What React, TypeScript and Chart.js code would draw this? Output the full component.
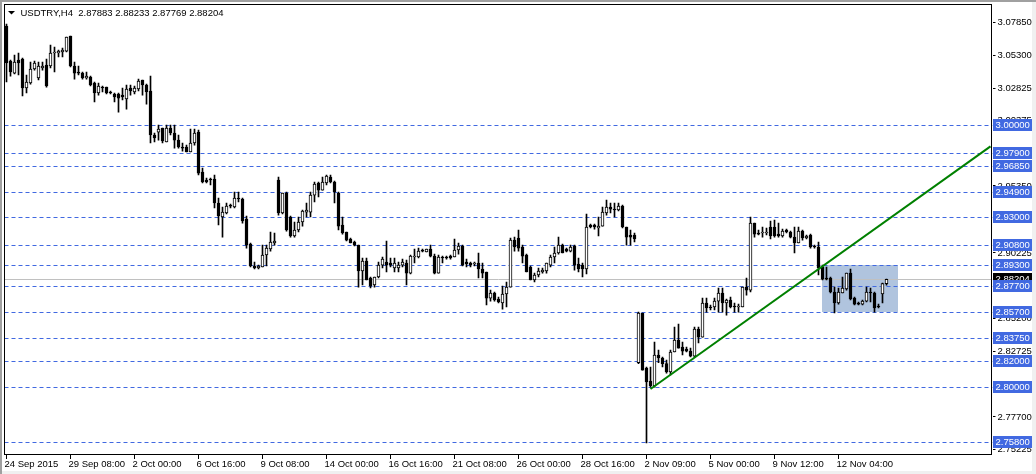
import React, { useEffect, useRef } from 'react';
import { Chart, registerables } from 'chart.js';

Chart.register(...registerables);

const SYMBOL = 'USDTRY,H4';
const timeLabels = ['24 Sep 2015', '29 Sep 08:00', '2 Oct 00:00', '6 Oct 16:00', '9 Oct 08:00', '14 Oct 00:00', '16 Oct 16:00', '21 Oct 08:00', '26 Oct 00:00', '28 Oct 16:00', '2 Nov 09:00', '5 Nov 00:00', '9 Nov 12:00', '12 Nov 04:00'];
const LABEL_EVERY = 16;
const TOTAL_SLOTS = 247;

const open = [
  3.0756, 3.0489, 3.0397, 3.0497, 3.0504, 3.0283, 3.0321, 3.0428, 3.0359, 3.0436,
  3.0458, 3.0451, 3.0550, 3.0550, 3.0558, 3.0565, 3.0680, 3.0451, 3.0405, 3.0397,
  3.0359, 3.0367, 3.0321, 3.0245, 3.0290, 3.0290, 3.0252, 3.0237, 3.0237, 3.0229,
  3.0199, 3.0283, 3.0252, 3.0275, 3.0344, 3.0306, 3.0260, 2.9924, 2.9946, 2.9977,
  2.9870, 2.9977, 2.9939, 2.9885, 2.9832, 2.9832, 2.9794, 2.9863, 2.9946, 2.9641,
  2.9580, 2.9587, 2.9587, 2.9404, 2.9297, 2.9328, 2.9389, 2.9374, 2.9442, 2.9435,
  2.9282, 2.9091, 2.8923, 2.8908, 2.8915, 2.9007, 2.9053, 2.9099, 2.9580, 2.9328,
  2.9481, 2.9297, 2.9152, 2.9198, 2.9259, 2.9335, 2.9335, 2.9465, 2.9557, 2.9503,
  2.9557, 2.9603, 2.9565, 2.9481, 2.9236, 2.9183, 2.9129, 2.9106, 2.9083, 2.8885,
  2.8961, 2.8831, 2.8778, 2.8839, 2.8930, 2.8953, 2.8946, 2.8908, 2.8908, 2.8930,
  2.8946, 2.8869, 2.8992, 2.8992, 2.9045, 2.9030, 2.9053, 2.8999, 2.8869, 2.8992,
  2.8992, 2.8999, 2.8992, 2.9045, 2.9076, 2.8953, 2.8946, 2.8938, 2.8946, 2.8900,
  2.8877, 2.8678, 2.8717, 2.8671, 2.8640, 2.8709, 2.8762, 2.9121, 2.9137, 2.9068,
  2.9007, 2.8915, 2.8816, 2.8854, 2.8877, 2.8885, 2.8930, 2.8992, 2.9022, 2.9083,
  2.9053, 2.9037, 2.9076, 2.8938, 2.8930, 2.8900, 2.9236, 2.9236, 2.9213, 2.9228,
  2.9328, 2.9374, 2.9358, 2.9351, 2.9381, 2.9221, 2.9160, 2.9160, 2.8184, 2.8564,
  2.8144, 2.8044, 2.8006, 2.8243, 2.8220, 2.8177, 2.8113, 2.8266, 2.8357, 2.8304,
  2.8289, 2.8273, 2.8235, 2.8441, 2.8380, 2.8640, 2.8610, 2.8610, 2.8655, 2.8717,
  2.8640, 2.8663, 2.8617, 2.8610, 2.8610, 2.8762, 2.8739, 2.9251, 2.9175, 2.9175,
  2.9175, 2.9221, 2.9221, 2.9167, 2.9152, 2.9198, 2.9183, 2.9144, 2.9099, 2.9190,
  2.9137, 2.9160, 2.9076, 2.9068, 2.8915, 2.8831, 2.8831, 2.8724, 2.8640, 2.8717,
  2.8747, 2.8869, 2.8678, 2.8640, 2.8632, 2.8655, 2.8724, 2.8717, 2.8617, 2.8709,
  2.87883,
];
const high = [
  3.0772, 3.0497, 3.0535, 3.0550, 3.0512, 3.0382, 3.0481, 3.0489, 3.0481, 3.0481,
  3.0504, 3.0611, 3.0596, 3.0573, 3.0588, 3.0672, 3.0680, 3.0481, 3.0451, 3.0405,
  3.0405, 3.0374, 3.0329, 3.0321, 3.0298, 3.0290, 3.0260, 3.0245, 3.0245, 3.0283,
  3.0306, 3.0306, 3.0298, 3.0351, 3.0344, 3.0313, 3.0374, 2.9939, 3.0000, 2.9977,
  3.0000, 3.0000, 3.0000, 2.9924, 2.9863, 2.9847, 2.9969, 2.9969, 2.9962, 2.9672,
  2.9595, 2.9595, 2.9618, 2.9442, 2.9374, 2.9404, 2.9396, 2.9488, 2.9488, 2.9442,
  2.9305, 2.9099, 2.8953, 2.8930, 2.9083, 2.9083, 2.9183, 2.9175, 2.9603, 2.9481,
  2.9488, 2.9305, 2.9259, 2.9297, 2.9351, 2.9404, 2.9488, 2.9565, 2.9565, 2.9603,
  2.9618, 2.9618, 2.9572, 2.9488, 2.9297, 2.9183, 2.9137, 2.9114, 2.9083, 2.8984,
  2.8984, 2.8839, 2.8839, 2.8953, 2.8992, 2.9114, 2.8984, 2.8984, 2.8953, 2.8976,
  2.8969, 2.9007, 2.9053, 2.9060, 2.9053, 2.9053, 2.9083, 2.9014, 2.9007, 2.8999,
  2.8999, 2.9007, 2.9129, 2.9099, 2.9083, 2.8976, 2.8953, 2.8953, 2.9022, 2.8946,
  2.8877, 2.8739, 2.8724, 2.8686, 2.8770, 2.8801, 2.9137, 2.9144, 2.9198, 2.9083,
  2.9014, 2.8923, 2.8869, 2.8908, 2.8908, 2.8946, 2.9007, 2.9068, 2.9144, 2.9091,
  2.9060, 2.9083, 2.9083, 2.8984, 2.8946, 2.9320, 2.9244, 2.9244, 2.9297, 2.9374,
  2.9427, 2.9404, 2.9404, 2.9404, 2.9389, 2.9221, 2.9198, 2.9175, 2.8571, 2.8564,
  2.8151, 2.8151, 2.8342, 2.8281, 2.8228, 2.8205, 2.8281, 2.8457, 2.8480, 2.8342,
  2.8304, 2.8296, 2.8457, 2.8457, 2.8678, 2.8678, 2.8625, 2.8678, 2.8755, 2.8755,
  2.8671, 2.8686, 2.8640, 2.8632, 2.8762, 2.8831, 2.9297, 2.9251, 2.9198, 2.9221,
  2.9213, 2.9267, 2.9274, 2.9251, 2.9205, 2.9205, 2.9190, 2.9221, 2.9221, 2.9198,
  2.9160, 2.9167, 2.9083, 2.9106, 2.8930, 2.8915, 2.8839, 2.8762, 2.8755, 2.8839,
  2.8869, 2.8900, 2.8686, 2.8648, 2.8663, 2.8762, 2.8755, 2.8724, 2.8632, 2.8793,
  2.88233,
];
const low = [
  3.0329, 3.0374, 3.0390, 3.0382, 3.0222, 3.0245, 3.0313, 3.0420, 3.0344, 3.0420,
  3.0290, 3.0436, 3.0405, 3.0520, 3.0520, 3.0558, 3.0443, 3.0351, 3.0382, 3.0351,
  3.0351, 3.0298, 3.0176, 3.0229, 3.0252, 3.0237, 3.0237, 3.0176, 3.0099, 3.0191,
  3.0122, 3.0229, 3.0237, 3.0260, 3.0229, 3.0160, 2.9863, 2.9870, 2.9885, 2.9863,
  2.9870, 2.9924, 2.9824, 2.9824, 2.9801, 2.9794, 2.9794, 2.9847, 2.9618, 2.9557,
  2.9557, 2.9542, 2.9366, 2.9236, 2.9144, 2.9320, 2.9366, 2.9366, 2.9412, 2.9251,
  2.9060, 2.8915, 2.8900, 2.8900, 2.8915, 2.8923, 2.9037, 2.9083, 2.9312, 2.9320,
  2.9190, 2.9144, 2.9144, 2.9183, 2.9228, 2.9297, 2.9297, 2.9412, 2.9450, 2.9503,
  2.9542, 2.9557, 2.9404, 2.9198, 2.9167, 2.9114, 2.9099, 2.9076, 2.8762, 2.8778,
  2.8816, 2.8755, 2.8762, 2.8831, 2.8908, 2.8877, 2.8915, 2.8877, 2.8877, 2.8915,
  2.8778, 2.8862, 2.8946, 2.8984, 2.9030, 2.9030, 2.8992, 2.8862, 2.8869, 2.8946,
  2.8976, 2.8976, 2.8992, 2.9014, 2.8923, 2.8915, 2.8915, 2.8923, 2.8831, 2.8831,
  2.8625, 2.8655, 2.8655, 2.8640, 2.8594, 2.8610, 2.8762, 2.9037, 2.9037, 2.8946,
  2.8877, 2.8816, 2.8801, 2.8839, 2.8869, 2.8869, 2.8915, 2.8946, 2.9014, 2.9022,
  2.9030, 2.9030, 2.8892, 2.8877, 2.8839, 2.8862, 2.9213, 2.9205, 2.9152, 2.9228,
  2.9312, 2.9328, 2.9297, 2.9343, 2.9213, 2.9083, 2.9083, 2.9106, 2.8177, 2.8128,
  2.7571, 2.7998, 2.7998, 2.8184, 2.8151, 2.8105, 2.8090, 2.8266, 2.8296, 2.8243,
  2.8266, 2.8228, 2.8228, 2.8335, 2.8380, 2.8571, 2.8587, 2.8587, 2.8571, 2.8571,
  2.8548, 2.8602, 2.8571, 2.8571, 2.8610, 2.8701, 2.8724, 2.9144, 2.9160, 2.9144,
  2.9160, 2.9129, 2.9144, 2.9144, 2.9144, 2.9175, 2.9137, 2.9022, 2.9099, 2.9121,
  2.9129, 2.9060, 2.9060, 2.8854, 2.8816, 2.8816, 2.8717, 2.8564, 2.8632, 2.8717,
  2.8739, 2.8663, 2.8625, 2.8625, 2.8625, 2.8648, 2.8648, 2.8571, 2.8602, 2.8640,
  2.87769,
];
const close = [
  3.0474, 3.0405, 3.0481, 3.0474, 3.0283, 3.0329, 3.0428, 3.0474, 3.0451, 3.0451,
  3.0298, 3.0550, 3.0558, 3.0565, 3.0573, 3.0672, 3.0451, 3.0397, 3.0397, 3.0359,
  3.0374, 3.0306, 3.0245, 3.0298, 3.0283, 3.0245, 3.0245, 3.0214, 3.0206, 3.0214,
  3.0275, 3.0260, 3.0283, 3.0336, 3.0306, 3.0252, 2.9924, 2.9901, 2.9969, 2.9878,
  2.9977, 2.9939, 2.9885, 2.9832, 2.9824, 2.9794, 2.9863, 2.9939, 2.9633, 2.9565,
  2.9565, 2.9580, 2.9404, 2.9305, 2.9335, 2.9381, 2.9381, 2.9442, 2.9435, 2.9267,
  2.9083, 2.8923, 2.8908, 2.8923, 2.9007, 2.9060, 2.9106, 2.9114, 2.9328, 2.9481,
  2.9198, 2.9152, 2.9198, 2.9259, 2.9343, 2.9351, 2.9465, 2.9549, 2.9503, 2.9565,
  2.9610, 2.9565, 2.9488, 2.9228, 2.9175, 2.9121, 2.9099, 2.9083, 2.8885, 2.8961,
  2.8816, 2.8770, 2.8839, 2.8930, 2.8976, 2.8930, 2.8930, 2.8946, 2.8930, 2.8953,
  2.8869, 2.8999, 2.8999, 2.9037, 2.9037, 2.9053, 2.8999, 2.8869, 2.8992, 2.8984,
  2.8984, 2.8984, 2.9045, 2.9076, 2.8930, 2.8938, 2.8930, 2.8946, 2.8900, 2.8869,
  2.8678, 2.8717, 2.8663, 2.8648, 2.8709, 2.8762, 2.9121, 2.9068, 2.9060, 2.8999,
  2.8877, 2.8816, 2.8854, 2.8885, 2.8892, 2.8946, 2.8992, 2.9022, 2.9083, 2.9022,
  2.9037, 2.9068, 2.8930, 2.8900, 2.8900, 2.9221, 2.9221, 2.9221, 2.9228, 2.9335,
  2.9374, 2.9358, 2.9351, 2.9381, 2.9221, 2.9144, 2.9144, 2.9129, 2.8564, 2.8128,
  2.8037, 2.8006, 2.8243, 2.8220, 2.8177, 2.8113, 2.8266, 2.8357, 2.8296, 2.8273,
  2.8273, 2.8235, 2.8441, 2.8380, 2.8640, 2.8602, 2.8602, 2.8655, 2.8717, 2.8640,
  2.8663, 2.8610, 2.8610, 2.8617, 2.8762, 2.8739, 2.9251, 2.9167, 2.9167, 2.9183,
  2.9183, 2.9152, 2.9152, 2.9152, 2.9190, 2.9183, 2.9144, 2.9099, 2.9190, 2.9137,
  2.9152, 2.9068, 2.9068, 2.8908, 2.8823, 2.8823, 2.8724, 2.8640, 2.8724, 2.8755,
  2.8869, 2.8671, 2.8632, 2.8632, 2.8655, 2.8724, 2.8717, 2.8602, 2.8610, 2.8788,
  2.88204,
];

const levelPrices = [3.0, 2.979, 2.9685, 2.949, 2.93, 2.908, 2.893, 2.877, 2.857, 2.8375, 2.82, 2.8, 2.758];
const axisTicks = [3.0785, 3.053, 3.02825, 3.00375, 2.979, 2.9535, 2.92875, 2.90225, 2.87725, 2.852, 2.82725, 2.80175, 2.777, 2.75225];
const trendBars = [161, 246];
const trendPrices = [2.7983, 2.9837];
const boxBars = [203.75, 222.7];
const boxPrices = [2.893, 2.857];
const Y_MIN = 2.7479;
const Y_MAX = 3.0917;

const FONT_FAMILY = '"Liberation Sans", Arial, sans-serif';
const FONT_SIZE = 9.5;
const LEVEL_COLOR = '#4169E1';

export default function App() {
  const ref = useRef<HTMLCanvasElement>(null);

  useEffect(() => {
    const canvas = ref.current;
    if (!canvas) return;
    const last = close.length - 1;
    const lastPrice = close[last];

    const categories = Array.from({ length: TOTAL_SLOTS }, (_, i) =>
      i % LABEL_EVERY === 0 && i / LABEL_EVERY < timeLabels.length ? timeLabels[i / LABEL_EVERY] : ''
    );
    const bodyData = open.map((o, i) => [Math.min(o, close[i]), Math.max(o, close[i])]);
    const wickData = low.map((l, i) => [l, high[i]]);
    const bodyColors = open.map((o, i) => (close[i] >= o ? '#ffffff' : '#000000'));
    const trendData = Array.from({ length: TOTAL_SLOTS }, (_, i) => {
      const k = trendBars.indexOf(i);
      return k >= 0 ? trendPrices[k] : null;
    });

    const font = `${FONT_SIZE}px ${FONT_FAMILY}`;

    const backgroundPlugin = {
      id: 'bg',
      beforeDraw(chart: any) {
        const { ctx } = chart;
        ctx.save();
        ctx.fillStyle = '#ffffff';
        ctx.fillRect(0, 0, chart.width, chart.height);
        ctx.restore();
      },
      beforeDatasetsDraw(chart: any) {
        const { ctx, chartArea, scales } = chart;
        const xs = scales.x;
        const ys = scales.y;
        ctx.save();
        ctx.beginPath();
        ctx.rect(chartArea.left, chartArea.top, chartArea.right - chartArea.left, chartArea.bottom - chartArea.top);
        ctx.clip();
        // rectangle object
        const x1 = xs.getPixelForValue(boxBars[0]);
        const x2 = xs.getPixelForValue(boxBars[1]);
        const y1 = ys.getPixelForValue(boxPrices[0]);
        const y2 = ys.getPixelForValue(boxPrices[1]);
        ctx.fillStyle = '#B0C4DE';
        ctx.fillRect(Math.round(x1), Math.round(y1), Math.round(x2 - x1), Math.round(y2 - y1));
        // bid line
        const by = Math.round(ys.getPixelForValue(lastPrice)) + 0.5;
        ctx.strokeStyle = '#C0C0C0';
        ctx.lineWidth = 1;
        ctx.beginPath();
        ctx.moveTo(chartArea.left, by);
        ctx.lineTo(chartArea.right, by);
        ctx.stroke();
        // horizontal levels
        ctx.strokeStyle = LEVEL_COLOR;
        ctx.setLineDash([4, 3]);
        levelPrices.forEach((p) => {
          const y = Math.round(ys.getPixelForValue(p)) + 0.5;
          ctx.beginPath();
          ctx.moveTo(chartArea.left, y);
          ctx.lineTo(chartArea.right, y);
          ctx.stroke();
        });
        ctx.restore();
      },
      afterDraw(chart: any) {
        const { ctx, scales } = chart;
        const ys = scales.y;
        ctx.save();
        // chart frame
        ctx.strokeStyle = '#000000';
        ctx.lineWidth = 1;
        ctx.strokeRect(4.5, 4.5, 987, 450);
        // header
        ctx.fillStyle = '#000000';
        ctx.beginPath();
        ctx.moveTo(8, 11);
        ctx.lineTo(15, 11);
        ctx.lineTo(11.5, 14.5);
        ctx.closePath();
        ctx.fill();
        ctx.font = font;
        ctx.textBaseline = 'middle';
        ctx.textAlign = 'left';
        const header = `${SYMBOL}  ${open[last].toFixed(5)} ${high[last].toFixed(5)} ${low[last].toFixed(5)} ${close[last].toFixed(5)}`;
        ctx.fillText(header, 20.5, 13.5);
        // price labels
        const drawLabel = (p: number, bg: string) => {
          const y = Math.round(ys.getPixelForValue(p));
          ctx.fillStyle = bg;
          ctx.fillRect(993, y - 6, 39, 12);
          ctx.fillStyle = '#ffffff';
          ctx.fillText(p.toFixed(5), 995.5, y + 0.5);
        };
        drawLabel(lastPrice, '#000000');
        levelPrices.forEach((p) => drawLabel(p, LEVEL_COLOR));
        // window border
        ctx.fillStyle = '#A0A0A0';
        ctx.fillRect(0, 0, chart.width, 2);
        ctx.fillRect(0, 0, 2, chart.height);
        ctx.fillStyle = '#F0F0F0';
        ctx.fillRect(chart.width - 4, 2, 4, chart.height - 2);
        ctx.fillRect(2, chart.height - 3, chart.width - 6, 3);
        ctx.restore();
      },
    };

    const chart = new Chart(canvas, {
      type: 'bar',
      data: {
        labels: categories,
        datasets: [
          {
            type: 'line',
            data: trendData as any,
            borderColor: '#008000',
            borderWidth: 2,
            pointRadius: 0,
            spanGaps: true,
            order: 0,
          } as any,
          {
            type: 'bar',
            data: bodyData as any,
            backgroundColor: bodyColors,
            borderColor: '#000000',
            borderWidth: 1,
            borderSkipped: false,
            barThickness: 3,
            minBarLength: 1,
            grouped: false,
            order: 1,
          } as any,
          {
            type: 'bar',
            data: wickData as any,
            backgroundColor: '#000000',
            borderWidth: 0,
            barThickness: 1,
            grouped: false,
            order: 2,
          } as any,
        ],
      },
      options: {
        responsive: false,
        animation: false,
        devicePixelRatio: 1,
        events: [],
        layout: { padding: { left: 4.5, top: 5, right: 0, bottom: 0 } },
        plugins: { legend: { display: false }, tooltip: { enabled: false } },
        scales: {
          x: {
            type: 'category',
            offset: true,
            border: { display: false },
            grid: { offset: false, drawOnChartArea: false, drawTicks: true, tickLength: 4, tickColor: '#000000', tickWidth: 1 },
            ticks: {
              autoSkip: false,
              maxRotation: 0,
              minRotation: 0,
              align: 'start',
              labelOffset: -2,
              padding: 0,
              color: '#000000',
              font: { family: FONT_FAMILY, size: FONT_SIZE },
              callback: function (this: any, value: any) {
                const l = this.getLabelForValue(value);
                return l === '' ? null : l;
              },
            },
            afterFit: (s: any) => {
              s.height = 19;
              s.paddingLeft = 0;
              s.paddingRight = 0;
            },
          },
          y: {
            type: 'linear',
            position: 'right',
            min: Y_MIN,
            max: Y_MAX,
            border: { display: false },
            grid: { drawOnChartArea: false, drawTicks: true, tickLength: 3, tickColor: '#000000', tickWidth: 1 },
            afterBuildTicks: (axis: any) => {
              axis.ticks = axisTicks.map((v) => ({ value: v }));
            },
            ticks: {
              padding: 2,
              color: '#000000',
              font: { family: FONT_FAMILY, size: FONT_SIZE },
              callback: (v: any) => Number(v).toFixed(5),
            },
            afterFit: (s: any) => {
              s.width = 43.5;
              s.paddingTop = 0;
              s.paddingBottom = 0;
            },
          },
        },
      } as any,
      plugins: [backgroundPlugin],
    });

    return () => chart.destroy();
  }, []);

  return (
    <canvas
      ref={ref}
      width={1036}
      height={474}
      style={{ position: 'absolute', left: 0, top: 0, width: 1036, height: 474 }}
    />
  );
}
